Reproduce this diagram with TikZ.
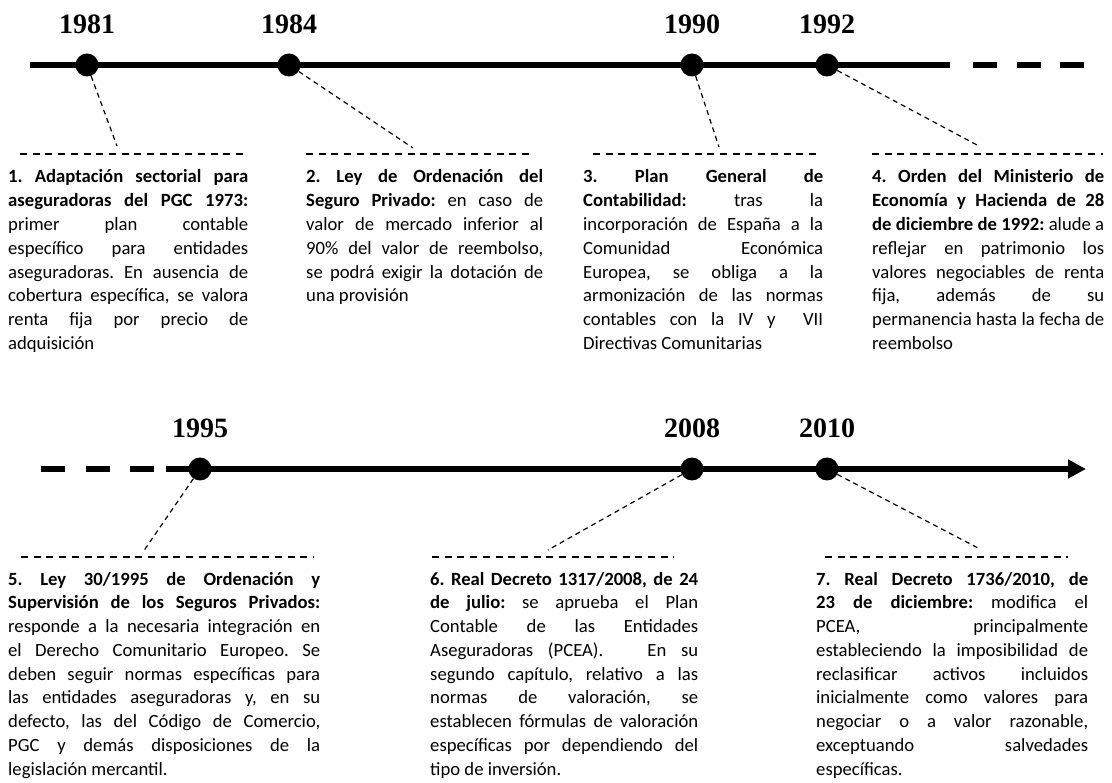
\documentclass[tikz,border=0pt]{standalone}
\usepackage{fontspec}
\setmainfont{Carlito}
\newfontfamily\yearfont{Liberation Serif}
\usetikzlibrary{arrows.meta}
\frenchspacing

% one justified line / one ragged last line of a note
\newcommand\jline[1]{\hbox to\hsize{#1}}
\newcommand\lline[1]{\hbox to\hsize{#1\hfil}}

\tikzset{
  timeline/.style={line width=6pt},
  event/.style={circle, fill=black, inner sep=0pt, minimum size=23pt},
  year/.style={font=\yearfont\bfseries\fontsize{28}{30}\selectfont, anchor=base, inner sep=0pt},
  leader/.style={line width=1.2pt, dash pattern=on 5pt off 4pt},
  notesep/.style={line width=1.3pt, dash pattern=on 7pt off 5.7pt},
  note/.style={anchor=base west, inner sep=0pt, font=\fontsize{18.67}{23.8}\selectfont},
}

\begin{document}
\begin{tikzpicture}[x=1pt, y=-1pt]
\useasboundingbox (0,0) rectangle (1112,783);

% ---------------- first period: 1981-1992 ----------------
\coordinate (ta) at (30,65);
\coordinate (tb) at (950,65);
\coordinate (tc) at (973,65);
\coordinate (td) at (1084,65);
\draw[timeline] (ta) -- (tb);
\draw[timeline, dash pattern=on 24pt off 19.5pt] (tc) -- (td);

\node[event] (e1981) at (87,65) {};
\node[event] (e1984) at (289,65) {};
\node[event] (e1990) at (692,65) {};
\node[event] (e1992) at (827,65) {};

\node[year] (y1981) at (87,34) {1981};
\node[year] (y1984) at (289,34) {1984};
\node[year] (y1990) at (692,34) {1990};
\node[year] (y1992) at (827,34) {1992};

\coordinate (l1) at (117,146);
\coordinate (l2) at (413,148);
\coordinate (l3) at (719,147);
\coordinate (l4) at (977,145);
\draw[leader] (e1981) -- (l1);
\draw[leader] (e1984) -- (l2);
\draw[leader] (e1990) -- (l3);
\draw[leader] (e1992) -- (l4);

\coordinate (s1a) at (20,154);  \coordinate (s1b) at (248,154);
\coordinate (s2a) at (306,154); \coordinate (s2b) at (534,154);
\coordinate (s3a) at (593,154); \coordinate (s3b) at (820,154);
\coordinate (s4a) at (872,154); \coordinate (s4b) at (1103,154);
\draw[notesep] (s1a) -- (s1b);
\draw[notesep] (s2a) -- (s2b);
\draw[notesep] (s3a) -- (s3b);
\draw[notesep] (s4a) -- (s4b);

\node[note] (n1) at (8,183) {\vtop{\hsize=240pt
  \jline{\bfseries 1. Adaptación sectorial para}
  \jline{\bfseries aseguradoras del PGC 1973:}
  \jline{primer plan contable}
  \jline{específico para entidades}
  \jline{aseguradoras. En ausencia de}
  \jline{cobertura específica, se valora}
  \jline{renta fija por precio de}
  \lline{adquisición}}};

\node[note] (n2) at (306,183) {\vtop{\hsize=237pt
  \jline{\bfseries 2. Ley de Ordenación del}
  \jline{{\bfseries Seguro Privado:} en caso de}
  \jline{valor de mercado inferior al}
  \jline{90\% del valor de reembolso,}
  \jline{se podrá exigir la dotación de}
  \lline{una provisión}}};

\node[note] (n3) at (583,183) {\vtop{\hsize=240pt
  \jline{\bfseries 3. Plan General de}
  \jline{{\bfseries Contabilidad:} tras la}
  \jline{incorporación de España a la}
  \jline{Comunidad Económica}
  \jline{Europea, se obliga a la}
  \jline{armonización de las normas}
  \jline{contables con la IV y \ VII}
  \lline{Directivas Comunitarias}}};

\node[note] (n4) at (872,183) {\vtop{\hsize=232pt
  \jline{\bfseries 4. Orden del Ministerio de}
  \jline{\bfseries Economía y Hacienda de 28}
  \jline{{\bfseries de diciembre de 1992:} alude a}
  \jline{reflejar en patrimonio los}
  \jline{valores negociables de renta}
  \jline{fija, además de su}
  \jline{permanencia hasta la fecha de}
  \lline{reembolso}}};

% ---------------- second period: 1995-2010 ----------------
\coordinate (ua) at (41,469);
\coordinate (ub) at (154,469);
\coordinate (uc) at (166,469);
\coordinate (ud) at (1086,469);
\draw[timeline, dash pattern=on 24pt off 20.5pt] (ua) -- (ub);
\draw[timeline, -{Triangle[length=18pt, width=18pt]}] (uc) -- (ud);

\node[event] (e1995) at (200,469) {};
\node[event] (e2008) at (692,469) {};
\node[event] (e2010) at (827,469) {};

\node[year] (y1995) at (200,438) {1995};
\node[year] (y2008) at (692,438) {2008};
\node[year] (y2010) at (827,438) {2010};

\coordinate (l5) at (143,552);
\coordinate (l6) at (548,550);
\coordinate (l7) at (978,548);
\draw[leader] (e1995) -- (l5);
\draw[leader] (e2008) -- (l6);
\draw[leader] (e2010) -- (l7);

\coordinate (s5a) at (21,557);  \coordinate (s5b) at (314,557);
\coordinate (s6a) at (432,557); \coordinate (s6b) at (674,557);
\coordinate (s7a) at (825,557); \coordinate (s7b) at (1068,557);
\draw[notesep] (s5a) -- (s5b);
\draw[notesep] (s6a) -- (s6b);
\draw[notesep] (s7a) -- (s7b);

\node[note] (n5) at (8,585) {\vtop{\hsize=312pt
  \jline{\bfseries 5. Ley 30/1995 de Ordenación y}
  \jline{\bfseries Supervisión de los Seguros Privados:}
  \jline{responde a la necesaria integración en}
  \jline{el Derecho Comunitario Europeo. Se}
  \jline{deben seguir normas específicas para}
  \jline{las entidades aseguradoras y, en su}
  \jline{defecto, las del Código de Comercio,}
  \jline{PGC y demás disposiciones de la}
  \lline{legislación mercantil.}}};

\node[note] (n6) at (430,585) {\vtop{\hsize=268pt
  \jline{\bfseries 6. Real Decreto 1317/2008, de 24}
  \jline{{\bfseries de julio:} se aprueba el Plan}
  \jline{Contable de las Entidades}
  \jline{Aseguradoras (PCEA). \ \ En su}
  \jline{segundo capítulo, relativo a las}
  \jline{normas de valoración, se}
  \jline{establecen fórmulas de valoración}
  \jline{específicas por dependiendo del}
  \lline{tipo de inversión.}}};

\node[note] (n7) at (816,585) {\vtop{\hsize=272pt
  \jline{\bfseries 7. Real Decreto 1736/2010, de}
  \jline{{\bfseries 23 de diciembre:} modifica el}
  \jline{PCEA, principalmente}
  \jline{estableciendo la imposibilidad de}
  \jline{reclasificar activos incluidos}
  \jline{inicialmente como valores para}
  \jline{negociar o a valor razonable,}
  \jline{exceptuando salvedades}
  \lline{específicas.}}};
\end{tikzpicture}
\end{document}
